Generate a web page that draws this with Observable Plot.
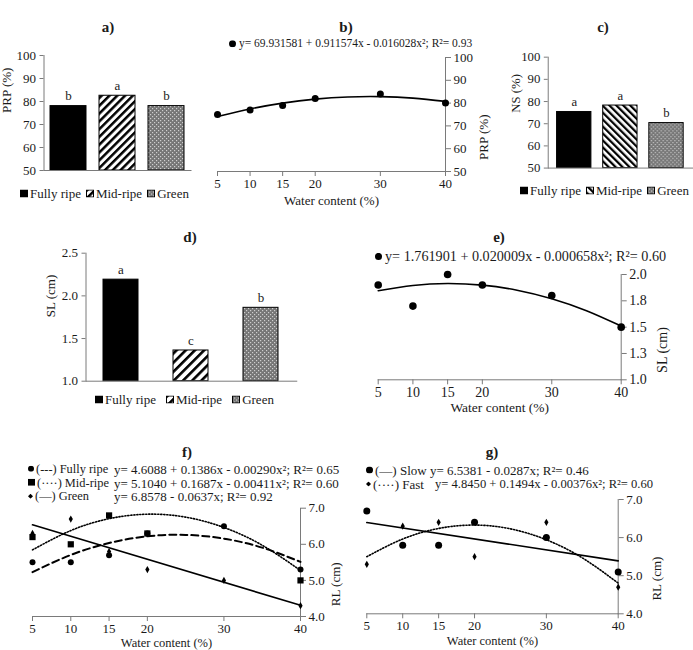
<!DOCTYPE html>
<html><head><meta charset="utf-8">
<script src="https://cdn.jsdelivr.net/npm/d3@7"></script>
<script src="https://cdn.jsdelivr.net/npm/@observablehq/plot@0.6"></script>
<style>
html,body{margin:0;padding:0;background:#fff;}
#root{position:relative;width:693px;height:650px;overflow:hidden;background:#fff;font-family:"Liberation Serif","Times New Roman",serif;color:#1a1a1a;}
.t{position:absolute;white-space:nowrap;line-height:1;}
.row{position:absolute;white-space:nowrap;line-height:1;display:flex;align-items:center;transform:translateY(-50%);}
.row svg{flex:none}
</style></head><body>
<svg width="0" height="0" style="position:absolute">
<defs>
 <pattern id="hatchA" patternUnits="userSpaceOnUse" width="5.5" height="5.5" patternTransform="rotate(45)">
  <rect width="5.5" height="5.5" fill="#fff"/><rect width="2.5" height="5.5" fill="#000"/>
 </pattern>
 <pattern id="hatchC" patternUnits="userSpaceOnUse" width="5" height="5" patternTransform="rotate(-45)">
  <rect width="5" height="5" fill="#fff"/><rect width="2.3" height="5" fill="#000"/>
 </pattern>
 <pattern id="hatchD" patternUnits="userSpaceOnUse" width="6.5" height="6.5" patternTransform="rotate(45)">
  <rect width="6.5" height="6.5" fill="#fff"/><rect width="2.6" height="6.5" fill="#000"/>
 </pattern>
 <pattern id="greenPat" patternUnits="userSpaceOnUse" width="4" height="4">
  <rect width="4" height="4" fill="#767676"/>
  <rect x="0" y="0" width="1.2" height="1.2" fill="#cfcfcf"/>
  <rect x="2" y="2" width="1.2" height="1.2" fill="#cfcfcf"/>
 </pattern>
</defs></svg>
<div id="root"></div>
<script>
// ---------------- data ----------------
const ripeness = ["Fully ripe", "Mid-ripe", "Green"];
const prpByRipeness = [78, 82.5, 78];
const prpLetters = ["b", "a", "b"];
const nsByRipeness = [75.3, 78.2, 70.3];
const nsLetters = ["a", "a", "b"];
const slByRipeness = [2.19, 1.36, 1.86];
const slLetters = ["a", "c", "b"];

const waterContent = [5, 10, 15, 20, 30, 40];
const prpByWater = [75, 77, 79, 82, 84, 80];
const slByWater = [1.9, 1.7, 2.0, 1.9, 1.8, 1.5];

const rlFullyRipe = [5.5, 5.5, 5.7, 6.3, 6.5, 5.3];
const rlMidRipe = [6.2, 6.0, 6.8, 6.3, null, 5.0];
const rlGreen = [6.3, 6.7, 5.8, 5.3, 5.0, 4.3];
const rlSlow = [6.7, 5.8, 5.8, 6.4, 6.0, 5.1];
const rlFast = [5.3, 6.3, 6.4, 5.5, 6.4, 4.7];

// fitted trend lines
const fitX = [5, 10, 15, 20, 25, 30, 35, 40];
const prpFit = [74.09, 77.44, 79.99, 81.75, 82.70, 82.85, 82.20, 80.75];
const slFit = [1.846, 1.896, 1.914, 1.899, 1.851, 1.770, 1.656, 1.510];
const rlFullyRipeFit = [5.229, 5.705, 6.035, 6.221, 6.261, 6.157, 5.907, 5.513];
const rlMidRipeFit = [5.845, 6.380, 6.710, 6.834, 6.753, 6.466, 5.974, 5.276];
const linX = [5, 40];
const rlGreenFit = [6.539, 4.310];
const rlSlowFit = [6.395, 5.390];
const rlFastFit = [5.498, 5.963, 6.240, 6.329, 6.230, 5.943, 5.468, 4.805];

const prpTicks = [50, 60, 70, 80, 90, 100];
const slBarTicks = [1.0, 1.5, 2.0, 2.5];
const slLineTicks = [1.0, 1.25, 1.5, 1.75, 2.0];
const rlTicks = [4, 5, 6, 7];

const eqB = "y= 69.931581 + 0.911574x - 0.016028x²; R²= 0.93";
const eqE = "y= 1.761901 + 0.020009x - 0.000658x²; R²= 0.60";
const eqF = [
  ["(---) Fully ripe", "y= 4.6088 + 0.1386x - 0.00290x²; R²= 0.65"],
  ["(····) Mid-ripe", "y= 5.1040 + 0.1687x - 0.00411x²; R²= 0.60"],
  ["(—) Green", "y= 6.8578 - 0.0637x; R²= 0.92"]
];
const eqG = [
  ["(—) Slow", "y= 6.5381 - 0.0287x; R²= 0.46"],
  ["(····) Fast", "y= 4.8450 + 0.1494x - 0.00376x²; R²= 0.60"]
];

// ---------------- helpers ----------------
const FONT = '"Liberation Serif","Times New Roman",serif';
const AX = "#7a7a7a";
const TXT = "#1a1a1a";
const root = document.getElementById("root");
const pts = (xs, ys) => xs.map((x, i) => ({x, y: ys[i]}));

function place(el, left, top) {
  const d = document.createElement("div");
  d.style.position = "absolute"; d.style.left = left + "px"; d.style.top = top + "px";
  d.append(el); root.append(d); return d;
}
function addText(str, x, y, {size = 13, weight = "normal", anchor = "middle"} = {}) {
  const d = document.createElement("div");
  d.className = "t"; d.textContent = str;
  d.style.left = x + "px"; d.style.top = y + "px";
  d.style.fontSize = size + "px"; d.style.fontWeight = weight;
  d.style.transform = anchor === "middle" ? "translate(-50%,-50%)" : "translate(0,-50%)";
  root.append(d); return d;
}
function symSvg(kind, size, mr = 2) {
  const s = size;
  let shape;
  if (kind === "circle") shape = `<circle cx="${s/2}" cy="${s/2}" r="${s/2}" fill="#000"/>`;
  else if (kind === "square") shape = `<rect width="${s}" height="${s}" fill="#000"/>`;
  else if (kind === "diamond") shape = `<polygon points="${s/2},0 ${s},${s/2} ${s/2},${s} 0,${s/2}" fill="#000"/>`;
  else shape = `<rect x="0.5" y="0.5" width="${s-1}" height="${s-1}" fill="${kind}" stroke="#000" stroke-width="1"/>`;
  return `<svg width="${s}" height="${s}" style="margin-right:${mr}px">${shape}</svg>`;
}
function addRow(html, x, y, size = 13) {
  const d = document.createElement("div");
  d.className = "row"; d.innerHTML = html;
  d.style.left = x + "px"; d.style.top = y + "px"; d.style.fontSize = size + "px";
  root.append(d); return d;
}
function legendBars(x, y, fills, gap) {
  const html = ripeness.map((c, i) =>
    `<span style="display:inline-flex;align-items:center;margin-right:${gap}px">${symSvg(fills[i], 8)}<span>${c}</span></span>`).join("");
  addRow(html, x, y, 13);
}
const styleOf = (fs) => ({fontFamily: FONT, fontSize: fs + "px", color: TXT, overflow: "visible", background: "transparent"});

function barPanel(c) {
  const data = ripeness.map((cat, i) => ({cat, v: c.values[i], letter: c.letters[i], fill: c.fills[i]}));
  const chart = Plot.plot({
    width: c.width, height: c.height,
    marginLeft: c.mL, marginRight: c.mR, marginTop: c.mT, marginBottom: c.mB,
    style: styleOf(13),
    x: {type: "band", domain: ripeness, paddingInner: c.pi, paddingOuter: c.po, axis: null},
    y: {domain: c.yDomain},
    marks: [
      Plot.barY(data, {x: "cat", y1: () => c.yDomain[0], y2: "v", fill: d => d.fill, stroke: "#000", strokeWidth: 1}),
      Plot.text(data, {x: "cat", y: "v", text: "letter", dy: -10, fontSize: 13, fill: TXT}),
      Plot.frame({anchor: "left", stroke: AX}),
      Plot.frame({anchor: "bottom", stroke: AX}),
      Plot.axisY({ticks: c.ticks, tickFormat: c.fmt, tickSize: 4, tickPadding: 4, stroke: AX, label: null}),
      Plot.text([c.label], {text: d => d, frameAnchor: "left", dx: c.ldx, rotate: -90, fontSize: 13, fill: TXT})
    ]
  });
  place(chart, c.left, c.top);
}

function linePanel(c) {
  const fs = c.fs || 13;
  const chart = Plot.plot({
    width: c.width, height: c.height,
    marginLeft: c.mL, marginRight: c.mR, marginTop: c.mT, marginBottom: c.mB,
    style: styleOf(fs),
    x: {domain: [5, 40]},
    y: {domain: c.yDomain},
    marks: [
      Plot.frame({anchor: "right", stroke: AX}),
      Plot.frame({anchor: "bottom", stroke: AX}),
      Plot.axisX({ticks: waterContent, tickSize: 5, tickPadding: 2, stroke: AX, label: null}),
      Plot.axisY({anchor: "right", ticks: c.ticks, tickFormat: c.fmt, tickSize: 5, tickPadding: 3, stroke: AX, label: null}),
      Plot.text(["Water content (%)"], {text: d => d, frameAnchor: "bottom", dy: c.xdy, fontSize: c.xfs || fs, fill: TXT}),
      Plot.text([c.label], {text: d => d, frameAnchor: "right", dx: c.ydx, rotate: -90, fontSize: fs, fill: TXT}),
      ...c.marks
    ]
  });
  place(chart, c.left, c.top);
}

// ---------------- panels ----------------
// a) PRP by ripeness
barPanel({left: 0, top: 40, width: 200, height: 145, mL: 43.5, mR: 9.5, mT: 15, mB: 15,
  pi: 0.26, po: 0.13, yDomain: [50, 100], ticks: prpTicks, fmt: d3.format("d"), label: "PRP (%)", ldx: -37,
  values: prpByRipeness, letters: prpLetters, fills: ["#000", "url(#hatchA)", "url(#greenPat)"]});
addText("a)", 108, 27, {size: 15, weight: "bold"});
legendBars(20, 193, ["#000", "url(#hatchA)", "url(#greenPat)"], 5);

// b) PRP vs water content
linePanel({left: 200, top: 40, width: 300, height: 175, mL: 17, mR: 55, mT: 17, mB: 44,
  yDomain: [50, 100], ticks: prpTicks, fmt: d3.format("d"), label: "PRP (%)", ydx: 38, xdy: 33,
  marks: [
    Plot.line(pts(fitX, prpFit), {x: "x", y: "y", curve: "natural", stroke: "#000", strokeWidth: 1.6}),
    Plot.dot(pts(waterContent, prpByWater), {x: "x", y: "y", r: 3.5, fill: "#000"})
  ]});
addText("b)", 346, 27, {size: 15, weight: "bold"});
addRow(symSvg("circle", 7) + `<span style="margin-left:1px">${eqB}</span>`, 229, 44, 11.5);

// c) NS by ripeness
barPanel({left: 480, top: 40, width: 217, height: 145, mL: 69, mR: 0, mT: 17, mB: 15,
  pi: 0.25, po: 0.167, yDomain: [50, 100], ticks: prpTicks, fmt: d3.format("d"), label: "NS (%)", ldx: -33,
  values: nsByRipeness, letters: nsLetters, fills: ["#000", "url(#hatchC)", "url(#greenPat)"]});
addText("c)", 603, 27, {size: 15, weight: "bold"});
legendBars(520, 190, ["#000", "url(#hatchC)", "url(#greenPat)"], 5);

// d) SL by ripeness
barPanel({left: 0, top: 240, width: 310, height: 150, mL: 85.5, mR: 13.75, mT: 12.7, mB: 9.3,
  pi: 0.5, po: 0.25, yDomain: [1, 2.5], ticks: slBarTicks, fmt: d3.format(".1f"), label: "SL (cm)", ldx: -35.5,
  values: slByRipeness, letters: slLetters, fills: ["#000", "url(#hatchD)", "url(#greenPat)"]});
addText("d)", 190, 237, {size: 15, weight: "bold"});
legendBars(95, 399, ["#000", "url(#hatchD)", "url(#greenPat)"], 10);

// e) SL vs water content
linePanel({left: 310, top: 240, width: 383, height: 180, mL: 67.7, mR: 72.3, mT: 34, mB: 40.7, fs: 14, xfs: 13.5,
  yDomain: [1, 2], ticks: slLineTicks, fmt: d3.format(".1f"), label: "SL (cm)", ydx: 41, xdy: 32,
  marks: [
    Plot.line(pts(fitX, slFit), {x: "x", y: "y", curve: "natural", stroke: "#000", strokeWidth: 1.6}),
    Plot.dot(pts(waterContent, slByWater), {x: "x", y: "y", r: 3.8, fill: "#000"})
  ]});
addText("e)", 499, 237, {size: 15, weight: "bold"});
addRow(symSvg("circle", 7, 3) + `<span>${eqE}</span>`, 375, 256, 14.2);

// f) RL by ripeness vs water content
linePanel({left: 0, top: 490, width: 345, height: 160, mL: 32, mR: 45, mT: 17.7, mB: 34, xfs: 12.5,
  yDomain: [4, 7], ticks: rlTicks, fmt: d3.format(".1f"), label: "RL (cm)", ydx: 35, xdy: 30,
  marks: [
    Plot.line(pts(fitX, rlFullyRipeFit), {x: "x", y: "y", curve: "natural", stroke: "#000", strokeWidth: 2, strokeDasharray: "7,4"}),
    Plot.line(pts(fitX, rlMidRipeFit), {x: "x", y: "y", curve: "natural", stroke: "#000", strokeWidth: 1.6, strokeDasharray: "1.2,1.8"}),
    Plot.line(pts(linX, rlGreenFit), {x: "x", y: "y", stroke: "#000", strokeWidth: 1.6}),
    Plot.dot(pts(waterContent, rlFullyRipe), {x: "x", y: "y", r: 3, fill: "#000"}),
    Plot.dot(pts(waterContent, rlMidRipe), {x: "x", y: "y", r: 3.5, symbol: "square", fill: "#000"}),
    Plot.dot(pts(waterContent, rlGreen), {x: "x", y: "y", r: 2.2, symbol: "diamond", fill: "#000"})
  ]});
addText("f)", 187, 452, {size: 15, weight: "bold"});
const fSyms = [symSvg("circle", 6), symSvg("square", 7), symSvg("diamond", 5)];
eqF.forEach(([lab, eq], i) => {
  addRow(fSyms[i] + `<span>${lab}</span>`, 28, 469 + i * 13.5, 12.4);
  addText(eq, 114, 469 + i * 13.5, {size: 13, anchor: "start"});
});

// g) RL by drying speed vs water content
linePanel({left: 345, top: 490, width: 348, height: 160, mL: 21.3, mR: 75.3, mT: 9, mB: 36.7, xfs: 12.5,
  yDomain: [4, 7], ticks: rlTicks, fmt: d3.format(".1f"), label: "RL (cm)", ydx: 39, xdy: 31.5,
  marks: [
    Plot.line(pts(linX, rlSlowFit), {x: "x", y: "y", stroke: "#000", strokeWidth: 1.6}),
    Plot.line(pts(fitX, rlFastFit), {x: "x", y: "y", curve: "natural", stroke: "#000", strokeWidth: 1.6, strokeDasharray: "1.2,1.8"}),
    Plot.dot(pts(waterContent, rlSlow), {x: "x", y: "y", r: 3.5, fill: "#000"}),
    Plot.dot(pts(waterContent, rlFast), {x: "x", y: "y", r: 2.2, symbol: "diamond", fill: "#000"})
  ]});
addText("g)", 492, 452, {size: 15, weight: "bold"});
const gSyms = [symSvg("circle", 7), symSvg("diamond", 5)];
eqG.forEach(([lab, eq], i) => {
  addRow(gSyms[i] + `<span>${lab}</span>`, 366, 470 + i * 14.3, 13);
  addText(eq, i === 0 ? 430 : 435, 470 + i * 14.3, {size: i === 0 ? 13 : 12.6, anchor: "start"});
});
</script>
</body></html>
